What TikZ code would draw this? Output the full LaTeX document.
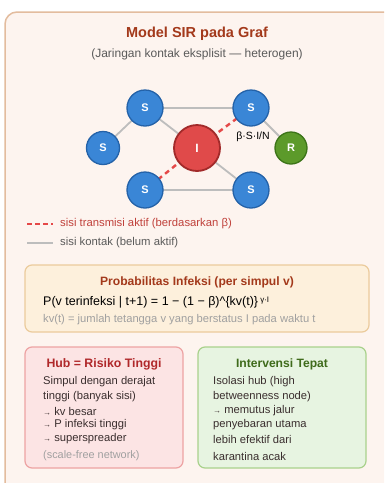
\documentclass[tikz,border=0pt]{standalone}
\usepackage{fontspec}
\setmainfont{Liberation Sans}
\usetikzlibrary{calc}
\definecolor{bgouter}{HTML}{FDF4EF}
\definecolor{bdouter}{HTML}{E3BC9E}
\definecolor{titlec}{HTML}{A3391B}
\definecolor{subc}{HTML}{5A5A5A}
\definecolor{sfill}{HTML}{3A86D6}
\definecolor{sdraw}{HTML}{2462A8}
\definecolor{ifill}{HTML}{E04A4A}
\definecolor{idraw}{HTML}{A22A2A}
\definecolor{rfill}{HTML}{5C9A2A}
\definecolor{rdraw}{HTML}{3C7418}
\definecolor{edgec}{HTML}{BDBDBD}
\definecolor{transc}{HTML}{E54848}
\definecolor{legredc}{HTML}{C0413B}
\definecolor{probfill}{HTML}{FDF0DC}
\definecolor{probdraw}{HTML}{EBCB9C}
\definecolor{noteg}{HTML}{A0A0A0}
\definecolor{hubfill}{HTML}{FCE4E4}
\definecolor{hubdraw}{HTML}{EDA3A3}
\definecolor{hubtitle}{HTML}{B0282A}
\definecolor{bodyc}{HTML}{3A2E2E}
\definecolor{intfill}{HTML}{E7F4E1}
\definecolor{intdraw}{HTML}{A9D18C}
\definecolor{inttitle}{HTML}{3F6B1B}
\tikzset{
  snode/.style={circle, fill=sfill, draw=sdraw, line width=1.3pt, minimum size=36pt, inner sep=0pt, text=white, font=\fontsize{11}{13}\selectfont\bfseries},
  smallsnode/.style={snode, minimum size=33pt},
  inode/.style={circle, fill=ifill, draw=idraw, line width=1.8pt, minimum size=46pt, inner sep=0pt, text=white, font=\fontsize{12}{14}\selectfont\bfseries},
  rnode/.style={circle, fill=rfill, draw=rdraw, line width=1.3pt, minimum size=32pt, inner sep=0pt, text=white, font=\fontsize{11}{13}\selectfont\bfseries},
  contact/.style={draw=edgec, line width=1.8pt},
  transm/.style={draw=transc, line width=2.4pt, dash pattern=on 5pt off 4pt},
  panel/.style={rounded corners=7pt, line width=1.2pt},
  bodytext/.style={anchor=west, inner sep=0pt, text=bodyc, font=\fontsize{11.2}{13}\selectfont},
}
\begin{document}
\begin{tikzpicture}[x=1pt,y=-1pt]
\useasboundingbox (0,0) rectangle (384,483);
\fill[white] (0,0) rectangle (384,483);
\begin{scope}
\clip (0,0) rectangle (384,483);
\draw[fill=bgouter, draw=bdouter, line width=1.5pt, rounded corners=12pt] (5,12) rectangle (400,500);
\end{scope}
% titles
\node[text=titlec, font=\fontsize{14.5}{17}\selectfont\bfseries] (title) at (197,34) {Model SIR pada Graf};
\node[text=subc, font=\fontsize{12}{14}\selectfont] (subtitle) at (197,54) {(Jaringan kontak eksplisit — heterogen)};
% edges
\coordinate (cstl) at (145,108);
\coordinate (cstr) at (251,108);
\coordinate (csl) at (103,148);
\coordinate (cinf) at (197,148);
\coordinate (crec) at (291,148);
\coordinate (csbl) at (145,190);
\coordinate (csbr) at (251,190);
\path[contact] (cstl) -- (cstr);
\path[contact] (cstl) -- (csl);
\path[contact] (cstl) -- (cinf);
\path[contact] (cinf) -- (csbr);
\path[contact] (csbl) -- (csbr);
\path[contact] (cstr) -- (crec);
\path[transm] (cinf) -- (cstr);
\path[transm] (cinf) -- (csbl);
% nodes
\node[snode] (stl) at (cstl) {S};
\node[snode] (str) at (cstr) {S};
\node[smallsnode] (sl) at (csl) {S};
\node[inode] (inf) at (cinf) {I};
\node[rnode] (rec) at (crec) {R};
\node[snode] (sbl) at (csbl) {S};
\node[snode] (sbr) at (csbr) {S};
\node[text=black, font=\fontsize{10.5}{12}\selectfont] (blabel) at (253,137) {β·S·I/N};
% legend
\coordinate (lr1) at (27,224);
\coordinate (lr2) at (53,224);
\coordinate (lg1) at (27,243);
\coordinate (lg2) at (53,243);
\path[transm, line width=2.2pt, dash pattern=on 5pt off 3pt] (lr1) -- (lr2);
\path[contact] (lg1) -- (lg2);
\node[anchor=west, inner sep=0pt, text=legredc, font=\fontsize{11.3}{13}\selectfont] (leg1) at (60,224) {sisi transmisi aktif (berdasarkan β)};
\node[anchor=west, inner sep=0pt, text=subc, font=\fontsize{11.3}{13}\selectfont] (leg2) at (60,243) {sisi kontak (belum aktif)};
% probability box
\draw[panel, fill=probfill, draw=probdraw] (25,265) rectangle (369,332);
\node[text=titlec, font=\fontsize{12.1}{14}\selectfont\bfseries] (probtitle) at (197,282) {Probabilitas Infeksi (per simpul v)};
\node[anchor=west, inner sep=0pt, text=black, font=\fontsize{12.5}{14}\selectfont] (formula) at (43,302) {P(v terinfeksi | t+1) = 1 − (1 − β)\^{}\{kv(t)\}\,\raisebox{3pt}{\fontsize{8}{9}\selectfont γ·I}};
\node[anchor=west, inner sep=0pt, text=noteg, font=\fontsize{11.2}{13}\selectfont] (probnote) at (43,320) {kv(t) = jumlah tetangga v yang berstatus I pada waktu t};
% hub box
\draw[panel, fill=hubfill, draw=hubdraw] (25,347) rectangle (183,468);
\node[text=hubtitle, font=\fontsize{12.3}{14}\selectfont\bfseries] (hubtitle) at (104,364) {Hub = Risiko Tinggi};
\node[bodytext] (h1) at (43,382) {Simpul dengan derajat};
\node[bodytext] (h2) at (43,397) {tinggi (banyak sisi)};
\node[bodytext] (h3) at (43,411) {{\fontsize{8}{9}\selectfont →} kv besar};
\node[bodytext] (h4) at (43,425) {{\fontsize{8}{9}\selectfont →} P infeksi tinggi};
\node[bodytext] (h5) at (43,439) {{\fontsize{8}{9}\selectfont →} superspreader};
\node[bodytext, text=noteg, font=\fontsize{10.9}{12}\selectfont] (h6) at (43,456) {(scale-free network)};
% intervention box
\draw[panel, fill=intfill, draw=intdraw] (198,347) rectangle (366,468);
\node[text=inttitle, font=\fontsize{12.1}{14}\selectfont\bfseries] (inttitle) at (282,364) {Intervensi Tepat};
\node[bodytext] (i1) at (213,382) {Isolasi hub (high};
\node[bodytext] (i2) at (213,397) {betweenness node)};
\node[bodytext] (i3) at (213,411) {{\fontsize{8}{9}\selectfont →} memutus jalur};
\node[bodytext] (i4) at (213,425) {penyebaran utama};
\node[bodytext] (i5) at (213,439) {lebih efektif dari};
\node[bodytext] (i6) at (213,456) {karantina acak};
\end{tikzpicture}
\end{document}
